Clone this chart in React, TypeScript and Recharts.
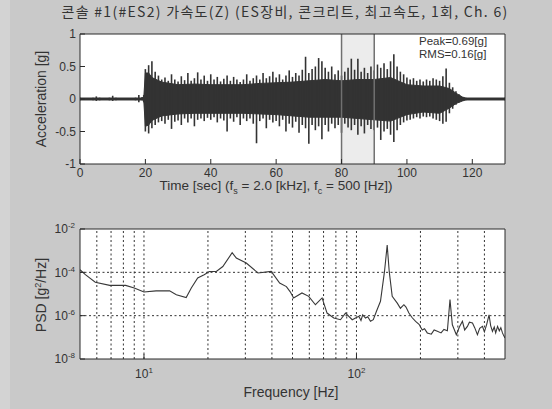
import React from 'react';
import {
  ComposedChart,
  LineChart,
  Line,
  Area,
  Bar,
  XAxis,
  YAxis,
  CartesianGrid,
  ReferenceLine,
  ReferenceArea,
} from 'recharts';

// acceleration record: min/max per sample time (spikes) ...
const accTime = [
  0, 4, 5, 6, 9, 10, 11, 17, 18, 19, 19.5,
  20, 21, 22, 23, 24, 25, 26, 27, 28, 29,
  30, 31, 32, 33, 34, 35, 36, 37, 38, 39,
  40, 41, 42, 43, 44, 45, 46, 47, 48, 49,
  50, 51, 52, 53, 54, 55, 56, 57, 58, 59,
  60, 61, 62, 63, 64, 65, 66, 67, 68, 69,
  70, 71, 72, 73, 74, 75, 76, 77, 78, 79,
  80, 81, 82, 83, 84, 85, 86, 87, 88, 89,
  90, 91, 92, 93, 94, 95, 96, 97, 98, 99,
  100, 101, 102, 103, 104, 105, 106, 107, 108, 109,
  110, 111, 112, 113, 114, 115, 116, 117, 118, 130,
];
const accUpper = [
  0.02, 0.02, 0.04, 0.02, 0.02, 0.05, 0.02, 0.02, 0.06, 0.03, 0.06,
  0.46, 0.52, 0.58, 0.42, 0.36, 0.30, 0.33, 0.28, 0.38, 0.30,
  0.27, 0.35, 0.29, 0.40, 0.28, 0.32, 0.41, 0.30, 0.36, 0.28,
  0.38, 0.30, 0.34, 0.27, 0.31, 0.36, 0.28, 0.34, 0.30, 0.26,
  0.30, 0.38, 0.28, 0.32, 0.36, 0.30, 0.40, 0.32, 0.35, 0.42,
  0.33, 0.38, 0.30, 0.36, 0.44, 0.34, 0.40, 0.36, 0.45, 0.65,
  0.40, 0.46, 0.50, 0.63, 0.58, 0.48, 0.42, 0.50, 0.38, 0.44,
  0.36, 0.42, 0.48, 0.62, 0.45, 0.62, 0.42, 0.48, 0.40, 0.50,
  0.44, 0.53, 0.48, 0.55, 0.46, 0.58, 0.69, 0.50, 0.42, 0.38,
  0.33, 0.30, 0.32, 0.28, 0.30, 0.27, 0.30, 0.28, 0.32, 0.30,
  0.28, 0.35, 0.47, 0.25, 0.18, 0.12, 0.07, 0.03, 0.02, 0.02,
];
const accLower = [
  -0.02, -0.02, -0.03, -0.02, -0.02, -0.03, -0.02, -0.02, -0.05, -0.02, -0.05,
  -0.50, -0.53, -0.45, -0.40, -0.36, -0.34, -0.38, -0.32, -0.46, -0.35,
  -0.33, -0.40, -0.30, -0.36, -0.30, -0.42, -0.32, -0.30, -0.34, -0.29,
  -0.32, -0.28, -0.36, -0.30, -0.33, -0.50, -0.30, -0.35, -0.28, -0.40,
  -0.30, -0.34, -0.30, -0.38, -0.68, -0.34, -0.30, -0.45, -0.32, -0.36,
  -0.34, -0.42, -0.32, -0.50, -0.38, -0.44, -0.35, -0.52, -0.40, -0.45,
  -0.69, -0.40, -0.48, -0.42, -0.62, -0.40, -0.50, -0.38, -0.45, -0.40,
  -0.52, -0.38, -0.44, -0.48, -0.40, -0.55, -0.42, -0.53, -0.40, -0.46,
  -0.48, -0.44, -0.63, -0.50, -0.46, -0.55, -0.66, -0.48, -0.40, -0.36,
  -0.33, -0.32, -0.30, -0.28, -0.30, -0.27, -0.28, -0.27, -0.30, -0.32,
  -0.34, -0.38, -0.35, -0.22, -0.15, -0.09, -0.05, -0.03, -0.02, -0.02,
];
// ... and the solid core of the band
const coreTime = [
  0, 19, 19.5, 20, 21, 22, 25, 30, 35, 40, 45, 50, 55, 60, 65,
  70, 75, 80, 85, 90, 95, 100, 105, 110, 113, 115, 117, 118, 130,
];
const coreUpper = [
  0.015, 0.015, 0.02, 0.40, 0.40, 0.33, 0.26, 0.22, 0.23, 0.22, 0.22, 0.22, 0.24, 0.25, 0.26,
  0.28, 0.30, 0.28, 0.30, 0.30, 0.33, 0.22, 0.20, 0.20, 0.16, 0.09, 0.03, 0.015, 0.015,
];
const coreLower = [
  -0.015, -0.015, -0.02, -0.42, -0.40, -0.33, -0.26, -0.23, -0.22, -0.22, -0.22, -0.22, -0.23, -0.24, -0.26,
  -0.28, -0.28, -0.28, -0.30, -0.32, -0.34, -0.24, -0.20, -0.22, -0.14, -0.07, -0.03, -0.015, -0.015,
];
const timeTicks = [0, 20, 40, 60, 80, 100, 120];
const accTicks = [-1, -0.5, 0, 0.5, 1];
const windowStart = 80;
const windowEnd = 90;

// power spectral density
const psdFreq = [
  5, 5.3, 5.9, 6.9, 8.2, 9, 10, 11.4, 13.2, 14.2,
  15.8, 16.7, 17.9, 19.2, 20.3, 21.9, 23.5, 26, 27.2, 30.3,
  34.4, 39.7, 43.5, 46.8, 48.8, 50.6, 55.4, 59.6, 64.1, 68.9,
  72.7, 78.2, 84.1, 88.8, 95.5, 102.6, 105, 107, 110.3, 113,
  116.4, 120, 124.2, 129.7, 135.5, 139.5, 142.6, 147.3, 155.6, 161,
  167.2, 171, 176.5, 183, 189.8, 197, 204, 209, 215.4, 225,
  232, 240.2, 250, 258, 267.8, 275.5, 282.6, 295.1, 305, 315.2,
  323, 332.7, 340, 351.5, 360, 370.9, 380, 391.6, 400, 410,
  420.6, 428, 436.5, 445, 452, 461.3, 470, 478, 486.5, 493,
  500,
];
const psdValue = [
  1.32e-4, 7.8e-5, 3.5e-5, 2.5e-5, 2.5e-5, 1.9e-5, 1.23e-5, 1.4e-5, 1.4e-5, 9.3e-6,
  6.9e-6, 1.9e-5, 5.5e-5, 7.8e-5, 1.1e-4, 1.1e-4, 1.86e-4, 8.0e-4, 4.6e-4, 2.7e-4,
  9.3e-5, 1.1e-4, 3.2e-5, 2.2e-5, 1.26e-5, 6.6e-6, 1.12e-5, 7.8e-6, 3.2e-6, 6.6e-6,
  1.32e-6, 7.8e-7, 6.5e-7, 1.32e-6, 6.5e-7, 9.3e-7, 6.0e-7, 1.1e-6, 7.8e-7, 9.0e-7,
  5.5e-7, 6.5e-7, 1.6e-6, 4.6e-6, 1.1e-4, 1.8e-3, 1.1e-4, 7.8e-6, 3.8e-6, 2.2e-6,
  3.2e-6, 2.5e-6, 1.32e-6, 8.0e-7, 5.5e-7, 4.0e-7, 2.2e-7, 2.5e-7, 1.6e-7, 1.4e-7,
  2.2e-7, 1.9e-7, 1.6e-7, 2.3e-7, 2.0e-7, 5.5e-6, 3.8e-7, 1.32e-7, 3.0e-7, 5.5e-7,
  2.2e-7, 3.2e-7, 5.0e-7, 4.6e-7, 2.8e-7, 1.32e-7, 2.6e-7, 3.2e-7, 1.8e-7, 4.0e-7,
  1.1e-6, 3.5e-7, 1.9e-7, 3.0e-7, 1.6e-7, 3.2e-7, 2.0e-7, 2.8e-7, 1.6e-7, 1.2e-7,
  9.3e-8,
];
const freqTicks = [10, 100];
const psdTicks = [1e-8, 1e-6, 1e-4, 1e-2];
const freqGrid = [6, 7, 8, 9, 10, 20, 30, 40, 50, 60, 70, 80, 90, 100, 200, 300, 400];
const psdGrid = [1e-4, 1e-6];

const coreAt = new Map(coreTime.map((t, i) => [t, i]));
const accData = accTime.map((t, i) => {
  const k = coreAt.get(t);
  return {
    t,
    band: [accLower[i], accUpper[i]],
    core: k === undefined ? null : [coreLower[k], coreUpper[k]],
  };
});
const psdData = psdFreq.map((f, i) => ({f, psd: psdValue[i]}));

const FONT = '"Liberation Sans", Arial, sans-serif';
const KFONT = '"Noto Sans CJK KR", "Liberation Sans", sans-serif';
const INK = '#333';
const AXIS = '#2a2a2a';
const SIGNAL = '#333';
const tickStyle = {fontSize: 12, fill: INK, fontFamily: FONT};

const PowerTick = (props: any) => {
  const {x, y, payload, vertical} = props;
  const exp = Math.round(Math.log10(payload.value));
  return (
    <text
      x={x}
      y={y}
      textAnchor={vertical ? 'end' : 'middle'}
      fontSize={12}
      fontFamily={FONT}
      fill={INK}
    >
      <tspan dy={vertical ? '0.35em' : '0.9em'}>10</tspan>
      <tspan dy={-5} fontSize={8}>
        {exp}
      </tspan>
    </text>
  );
};

const App = () => {
  return (
    <div
      style={{
        position: 'absolute',
        left: 0,
        top: 0,
        width: 552,
        height: 409,
        background: '#c9c9c9',
      }}
    >
      <div
        style={{position: 'absolute', left: 0, top: 0, width: 10, height: 409, background: '#d3d3d3'}}
      />
      <div style={{position: 'absolute', left: 0, top: 0}}>
        <ComposedChart
          width={552}
          height={200}
          data={accData}
          margin={{top: 24, right: 37, bottom: 16, left: 40}}
        >
          <CartesianGrid horizontal={false} vertical={false} fill='#fff' />
          <ReferenceArea x1={windowStart} x2={windowEnd} fill='#ececec' fillOpacity={1} />
          <ReferenceLine x={windowStart} stroke='#707070' strokeWidth={1.5} />
          <ReferenceLine x={windowEnd} stroke='#707070' strokeWidth={1.5} />
          <Area
            dataKey='core'
            type='linear'
            connectNulls
            stroke={SIGNAL}
            strokeWidth={1}
            fill={SIGNAL}
            fillOpacity={1}
            dot={false}
            activeDot={false}
            isAnimationActive={false}
          />
          <Bar dataKey='band' barSize={1.6} fill={SIGNAL} isAnimationActive={false} />
          <XAxis
            dataKey='t'
            type='number'
            domain={[0, 130]}
            ticks={timeTicks}
            interval={0}
            allowDataOverflow
            height={20}
            tickSize={-5}
            tickMargin={9}
            stroke={AXIS}
            tick={tickStyle}
          />
          <XAxis
            xAxisId='top'
            orientation='top'
            type='number'
            domain={[0, 130]}
            ticks={timeTicks}
            interval={0}
            height={10}
            tickSize={-5}
            tick={false}
            stroke={AXIS}
          />
          <YAxis
            type='number'
            domain={[-1, 1]}
            ticks={accTicks}
            interval={0}
            allowDataOverflow
            width={40}
            tickSize={-5}
            tickMargin={9}
            stroke={AXIS}
            tick={tickStyle}
          />
          <YAxis
            yAxisId='right'
            orientation='right'
            type='number'
            domain={[-1, 1]}
            ticks={accTicks}
            interval={0}
            width={10}
            tickSize={-5}
            tick={false}
            stroke={AXIS}
          />
        </ComposedChart>
      </div>

      <div style={{position: 'absolute', left: 0, top: 200}}>
        <LineChart
          width={552}
          height={209}
          data={psdData}
          margin={{top: 19, right: 37, bottom: 30, left: 40}}
        >
          <CartesianGrid horizontal={false} vertical={false} fill='#fff' />
          {freqGrid.map((f) => (
            <ReferenceLine key={'f' + f} x={f} stroke='#333' strokeDasharray='2 2.5' />
          ))}
          {psdGrid.map((p) => (
            <ReferenceLine key={'p' + p} y={p} stroke='#333' strokeDasharray='2 2.5' />
          ))}
          <Line
            dataKey='psd'
            type='linear'
            stroke='#383838'
            strokeWidth={1.1}
            dot={false}
            activeDot={false}
            isAnimationActive={false}
          />
          <XAxis
            dataKey='f'
            type='number'
            scale='log'
            domain={[5, 500]}
            ticks={freqTicks}
            interval={0}
            allowDataOverflow
            height={20}
            tickSize={-5}
            tickMargin={13}
            stroke={AXIS}
            tick={<PowerTick />}
          />
          <XAxis
            xAxisId='top'
            orientation='top'
            type='number'
            scale='log'
            domain={[5, 500]}
            ticks={freqTicks}
            interval={0}
            allowDataOverflow
            height={10}
            tickSize={-5}
            tick={false}
            stroke={AXIS}
          />
          <YAxis
            type='number'
            scale='log'
            domain={[1e-8, 1e-2]}
            ticks={psdTicks}
            interval={0}
            allowDataOverflow
            width={40}
            tickSize={-5}
            tickMargin={10}
            stroke={AXIS}
            tick={<PowerTick vertical />}
          />
          <YAxis
            yAxisId='right'
            orientation='right'
            type='number'
            scale='log'
            domain={[1e-8, 1e-2]}
            ticks={psdTicks}
            interval={0}
            allowDataOverflow
            width={10}
            tickSize={-5}
            tick={false}
            stroke={AXIS}
          />
        </LineChart>
      </div>

      <svg
        width={552}
        height={409}
        style={{position: 'absolute', left: 0, top: 0, pointerEvents: 'none'}}
      >
        <text
          x={285}
          y={16.5}
          textAnchor='middle'
          fontSize={14}
          letterSpacing={1.3}
          fontFamily={KFONT}
          fill={INK}
        >
          콘솔 #1(#ES2) 가속도(Z) (ES장비, 콘크리트, 최고속도, 1회, Ch. 6)
        </text>
        <text
          x={46}
          y={99}
          transform='rotate(-90 46 99)'
          textAnchor='middle'
          fontSize={14}
          fontFamily={FONT}
          fill={INK}
        >
          Acceleration [g]
        </text>
        <text fontSize={11.5} fontFamily={FONT} fill={INK}>
          <tspan x={419} y={45}>
            Peak=0.69[g]
          </tspan>
          <tspan x={419} y={57.5}>
            RMS=0.16[g]
          </tspan>
        </text>
        <text x={276} y={190} textAnchor='middle' fontSize={13.5} fontFamily={FONT} fill={INK}>
          Time [sec] (f
          <tspan dy={4} fontSize={9}>s</tspan>
          <tspan dy={-4}> = 2.0 [kHz], f</tspan>
          <tspan dy={4} fontSize={9}>c</tspan>
          <tspan dy={-4}> = 500 [Hz])</tspan>
        </text>
        <text
          x={46}
          y={295}
          transform='rotate(-90 46 295)'
          textAnchor='middle'
          fontSize={14}
          fontFamily={FONT}
          fill={INK}
        >
          PSD [g
          <tspan dy={-5} fontSize={9}>2</tspan>
          <tspan dy={5}>/Hz]</tspan>
        </text>
        <text x={291} y={397} textAnchor='middle' fontSize={14} fontFamily={FONT} fill={INK}>
          Frequency [Hz]
        </text>
      </svg>
    </div>
  );
};

export default App;
